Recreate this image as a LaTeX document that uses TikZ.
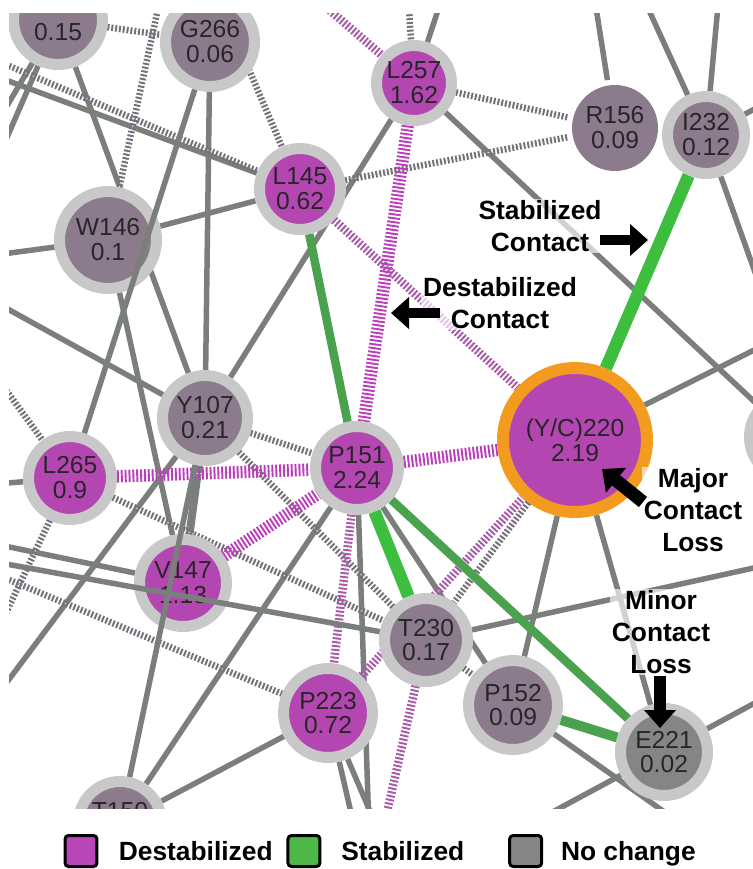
\documentclass[tikz,border=0pt]{standalone}
\usepackage{fontspec}
\setmainfont{Liberation Sans}
\usepackage{tikz}
\usetikzlibrary{positioning,calc,backgrounds,arrows.meta}

\definecolor{destab}{HTML}{B446B2}
\definecolor{neutral}{HTML}{8C7B8C}
\definecolor{nochg}{HTML}{858585}
\definecolor{ringgray}{HTML}{C8C8C8}
\definecolor{majorring}{HTML}{F39B1F}
\definecolor{edgegray}{HTML}{7A7F7B}
\definecolor{hatchgray}{HTML}{75707A}
\definecolor{hatchmauve}{HTML}{A85CA8}
\definecolor{hatchmag}{HTML}{BA40BA}
\definecolor{stabgreen}{HTML}{3EBE3E}
\definecolor{stabgreenB}{HTML}{4AA24E}
\definecolor{legmag}{HTML}{B946B9}
\definecolor{leggreen}{HTML}{4DB848}

\begin{document}
\begin{tikzpicture}[
		x=0.02cm, y=-0.02cm,
		% residue nodes (fill = change, grey ring)
		res/.style={circle, inner sep=0pt, draw=ringgray, line width=0.22cm, align=center,
			text=black!85, font={\fontsize{14}{14.2}\selectfont}},
		destabres/.style={res, fill=destab},
		neutralres/.style={res, fill=neutral},
		nochgres/.style={res, fill=nochg},
		% contacts
		contact/.style={edgegray, line width=0.11cm},
		thickcontact/.style={edgegray, line width=0.16cm},
		grayhatch/.style={preaction={draw=hatchgray!15, solid}, hatchgray, line width=0.13cm, dash pattern=on 1.1pt off 1.1pt},
		mauvehatch/.style={preaction={draw=hatchmauve!20, solid}, hatchmauve, line width=0.17cm, dash pattern=on 1.1pt off 1.1pt},
		maghatch/.style={preaction={draw=hatchmag!22, solid}, hatchmag, line width=0.25cm, dash pattern=on 1.1pt off 1.1pt},
		stabcontact/.style={stabgreen, line width=0.25cm},
		stabcontactB/.style={stabgreenB, line width=0.17cm},
		% callouts
		callout/.style={align=center, font={\bfseries\fontsize{15}{18}\selectfont}, fill=white,
			fill opacity=0.65, text opacity=1, inner sep=1pt},
		blockarrow/.style={black, line width=0.2cm, -{Triangle[length=0.36cm, width=0.62cm]}},
		% legend
		legbox/.style={draw=black, line width=0.06cm, rounded corners=2pt, minimum width=0.64cm,
			minimum height=0.62cm, inner sep=0pt},
		legtext/.style={font={\bfseries\fontsize{15}{18}\selectfont}, inner sep=0pt, text height=10.7pt, text depth=0pt}
	]
	\useasboundingbox (0,0) rectangle (753,869);
	
	% --- ENDS OUTSIDE THE CROP ---
	\coordinate (offTL1) at (-5,60);
	\coordinate (offTL2) at (-5,76);
	\coordinate (offL1) at (-5,126);
	\coordinate (offL2) at (-5,165);
	\coordinate (offL3) at (-5,255);
	\coordinate (offL4) at (-5,302);
	\coordinate (offL7) at (-5,375);
	\coordinate (offL8) at (-5,484);
	\coordinate (offL6) at (-5,544);
	\coordinate (offL5) at (-5,562);
	\coordinate (offL10) at (-5,574);
	\coordinate (offL9) at (-5,636);
	\coordinate (offL11) at (-5,698);
	\coordinate (offT1) at (161,-5);
	\coordinate (offT8) at (217,-5);
	\coordinate (offT2) at (312,-5);
	\coordinate (offT3) at (408,-5);
	\coordinate (offT4) at (443,-5);
	\coordinate (offT5) at (594,-5);
	\coordinate (offT6) at (642,-5);
	\coordinate (offT7) at (719,-5);
	\coordinate (offR2) at (790,90);
	\coordinate (offR3) at (772,320);
	\coordinate (offR4) at (800,327);
	\coordinate (offR5) at (790,560);
	\coordinate (offR6) at (790,684);
	\coordinate (offB6) at (519,830);
	\coordinate (offB3) at (355,830);
	\coordinate (offB1) at (369,830);
	\coordinate (offB4) at (378,830);
	\coordinate (offB2) at (383,830);
	\coordinate (offB5) at (690,830);
	
	\begin{scope}
		\clip (9,13) rectangle (753,808);
		
		% --- RESIDUES ---
		\node[neutralres, minimum size=1.78cm] (n015) at (58,20) {\phantom{0.15}\\0.15};
		\node[neutralres, minimum size=1.78cm] (G266) at (210,42) {G266\\0.06};
		\node[destabres, minimum size=1.5cm] (L257) at (414,83) {L257\\1.62};
		\node[neutralres, draw=none, minimum size=1.72cm] (R156) at (615,128) {R156\\0.09};
		\node[neutralres, minimum size=1.54cm] (I232) at (706,135) {I232\\0.12};
		\node[destabres, minimum size=1.62cm] (L145) at (300,189) {L145\\0.62};
		\node[neutralres, minimum size=1.94cm] (W146) at (108,240) {W146\\0.1};
		\node[neutralres, minimum size=1.7cm] (Y107) at (205,418) {Y107\\0.21};
		\node[destabres, minimum size=1.66cm] (L265) at (70,478) {L265\\0.9};
		\node[destabres, minimum size=1.66cm] (P151) at (357,468) {P151\\2.24};
		\node[destabres, draw=majorring, line width=0.24cm, minimum size=2.88cm] (YC220) at (575,440) {(Y/C)220\\2.19};
		\node[destabres, minimum size=1.74cm] (V147) at (183,583) {V147\\1.13};
		\node[neutralres, minimum size=1.66cm] (T230) at (426,640) {T230\\0.17};
		\node[destabres, minimum size=1.78cm] (P223) at (328,713) {P223\\0.72};
		\node[neutralres, minimum size=1.78cm] (P152) at (513,705) {P152\\0.09};
		\node[nochgres, minimum size=1.74cm] (E221) at (664,752) {E221\\0.02};
		\node[neutralres, minimum size=1.66cm] (T150) at (120,823) {T150\\\phantom{0.00}};
		\node[neutralres, minimum size=1.7cm] (Roff) at (792,437) {};
		
		% contacts that cross over W146 and V147
		\draw[contact] (G266) -- (L265);
		\draw[contact] (Y107) -- (T150);
		\draw[contact] (offL5) -- (T230);
		
		% --- CONTACTS (under the residues) ---
		\begin{scope}[on background layer]
			\clip (9,13) rectangle (753,808);
			% unchanged contacts
			\draw[contact] (n015) -- (offL1);
			\draw[contact] (n015) -- (offL2);
			\draw[contact] (n015) -- (Y107);
			\draw[contact] (offTL2) -- (L145);
			\draw[contact] (offL3) -- (W146);
			\draw[contact] (offL4) -- (Y107);
			\draw[contact] (G266) -- (Y107);
			\draw[contact] (W146) -- (L145);
			\draw[contact] (W146) -- (V147);
			\draw[contact] (Y107) -- (L257);
			\draw[contact] (Y107) -- (offL11);
			\draw[thickcontact] (Y107) -- (V147);
			\draw[contact] (offT4) -- (L257);
			\draw[contact] (L257) -- (Roff);
			\draw[contact] (offT5) -- (R156);
			\draw[contact] (offT6) -- (I232);
			\draw[contact] (offT7) -- (I232);
			\draw[contact] (I232) -- (offR2);
			\draw[contact] (I232) -- (offR3);
			\draw[contact] (YC220) -- (offR4);
			\draw[contact] (YC220) -- (P152);
			\draw[contact] (YC220) -- (E221);
			\draw[contact] (P151) -- (P152);
			\draw[contact] (P151) -- (offB1);
			\draw[contact] (P151) -- (T150);
			\draw[contact] (offL6) -- (V147);
			\draw[contact] (offL8) -- (L265);
			\draw[contact] (T230) -- (offR5);
			\draw[contact] (T150) -- (P223);
			\draw[contact] (P223) -- (offB3);
			\draw[contact] (P223) -- (offB4);
			\draw[contact] (P152) -- (offB5);
			\draw[contact] (E221) -- (offR6);
			\draw[contact] (E221) -- (offB6);
			
			% weakly destabilized contacts
			\draw[grayhatch] (n015) -- (G266);
			\draw[grayhatch] (offTL1) -- (L145);
			\draw[grayhatch] (offT8) -- (L145);
			\draw[grayhatch] (offT1) -- (W146);
			\draw[grayhatch] (offT3) -- (L257);
			\draw[grayhatch] (L145) -- (R156);
			\draw[grayhatch] (L257) -- (R156);
			\draw[grayhatch] (Y107) -- (P151);
			\draw[grayhatch] (Y107) -- (T230);
			\draw[grayhatch] (L265) -- (T230);
			\draw[grayhatch] (offL7) -- (L265);
			\draw[grayhatch] (L265) -- (offL9);
			\draw[grayhatch] (offL10) -- (P223);
			\draw[grayhatch] (YC220) -- (T230);
			\draw[grayhatch] (T230) -- (P152);
			
			% destabilized contacts
			\draw[mauvehatch] (offT2) -- (L257);
			\draw[mauvehatch] (L145) -- (YC220);
			\draw[mauvehatch] (P223) -- (YC220);
			\draw[mauvehatch] (P151) -- (P223);
			\draw[mauvehatch] (T230) -- (offB2);
			\draw[maghatch] (L257) -- (P151);
			\draw[maghatch] (L265) -- (P151);
			\draw[maghatch] (V147) -- (P151);
			\draw[maghatch] (YC220) -- (P151);
			
			% stabilized contacts
			\draw[stabcontactB] (L145) -- (P151);
			\draw[stabcontact] (I232) -- (YC220);
			\draw[stabcontact] (P151) -- (T230);
			\draw[stabcontactB] (P151) -- (E221);
			\draw[stabcontactB, line width=0.2cm] (P152) -- (E221);
		\end{scope}
	\end{scope}
	
	% --- CALLOUTS ---
	\node[callout] (stablbl) at (540,226) {Stabilized\\Contact};
	\node[callout] (destablbl) at (500,303) {Destabilized\\Contact};
	\node[callout] (majorlbl) at (693,510) {Major\\Contact\\Loss};
	\node[callout] (minorlbl) at (661,632) {Minor\\Contact\\Loss};
	
	\coordinate (stabtail) at (600,240);
	\coordinate (stabtip) at (648,240);
	\coordinate (destabtail) at (440,313);
	\coordinate (destabtip) at (391,313);
	\coordinate (majortail) at (643,502);
	\coordinate (majortip) at (602,469);
	\coordinate (minortail) at (660,676);
	\coordinate (minortip) at (660,728);
	\draw[blockarrow] (stabtail) -- (stabtip);
	\draw[blockarrow] (destabtail) -- (destabtip);
	\draw[blockarrow, line width=0.26cm] (majortail) -- (majortip);
	\draw[blockarrow, line width=0.24cm] (minortail) -- (minortip);
	
	% --- LEGEND ---
	\node[legbox, fill=legmag] (legdestab) at (81,851) {};
	\node[legtext, right=0.4cm of legdestab] (legdestabtxt) {Destabilized};
	\node[legbox, fill=leggreen, right=0.27cm of legdestabtxt] (legstab) {};
	\node[legtext, right=0.39cm of legstab] (legstabtxt) {Stabilized};
	\node[legbox, fill=nochg, right=0.87cm of legstabtxt] (legnochg) {};
	\node[legtext, right=0.35cm of legnochg] (legnochgtxt) {No change};
	
\end{tikzpicture}
\end{document}
